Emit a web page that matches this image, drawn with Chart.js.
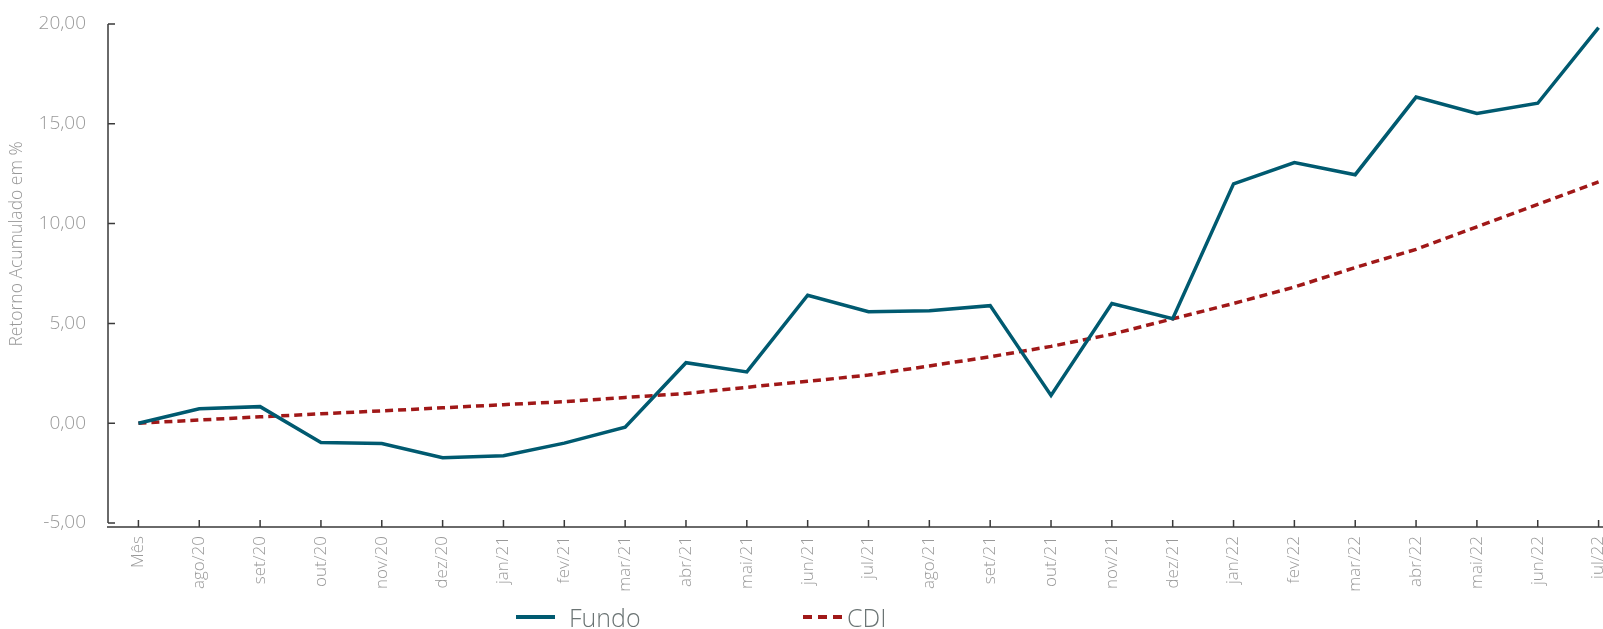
<!DOCTYPE html>
<html>
<head>
<meta charset="utf-8">
<script src="https://cdn.jsdelivr.net/npm/chart.js@4/dist/chart.umd.min.js"></script>
<style>
  html, body { margin: 0; padding: 0; background: #fff; overflow: hidden; }
  #wrap { position: relative; width: 1629px; height: 629px; }
  #legend { position: absolute; left: 0; top: 0; width: 1603px; height: 629px; pointer-events: none;
            font-family: "Open Sans", sans-serif; font-weight: 300; font-size: 25px; color: #6b7474; }
  .item { position: absolute; top: 601px; line-height: 32px; white-space: nowrap; }
  .swatch { position: absolute; top: 615px; height: 4px; width: 39px; }
</style>
</head>
<body>
<div id="wrap">
  <canvas id="retorno_chart" width="1629" height="629"></canvas>
  <div id="legend">
    <div class="swatch" style="left:516px; background:#005a70;"></div>
    <div class="item" style="left:569px;">Fundo</div>
    <div class="swatch" style="left:803px; background:repeating-linear-gradient(90deg,#a01818 0 9px,transparent 9px 15px);"></div>
    <div class="item" style="left:847px;">CDI</div>
  </div>
</div>
<script>
// months on the x axis
const labels = ['Mês', 'ago/20', 'set/20', 'out/20', 'nov/20', 'dez/20',
  'jan/21', 'fev/21', 'mar/21', 'abr/21', 'mai/21', 'jun/21', 'jul/21', 'ago/21', 'set/21', 'out/21', 'nov/21', 'dez/21',
  'jan/22', 'fev/22', 'mar/22', 'abr/22', 'mai/22', 'jun/22', 'jul/22'];

// accumulated return, %
const fundo = [0, 0.72, 0.83, -0.97, -1.02, -1.73, -1.63, -1.0, -0.2, 3.03, 2.57, 6.41, 5.59, 5.64, 5.89,
  1.39, 6.0, 5.23, 11.99, 13.06, 12.45, 16.34, 15.52, 16.03, 19.82];
const cdi = [0, 0.16, 0.32, 0.47, 0.62, 0.77, 0.93, 1.08, 1.29, 1.49, 1.8, 2.1, 2.41, 2.87, 3.33,
  3.85, 4.46, 5.23, 6.0, 6.82, 7.8, 8.71, 9.84, 10.96, 12.09];

const yTicks = [-5, 0, 5, 10, 15, 20];
const yTitle = 'Retorno Acumulado em %';

const AXIS_COLOR = '#3a3a3a';
const TICK_COLOR = '#999999';

// axis lines with inward tick marks, plus the y title
const axesPlugin = {
  id: 'axes',
  beforeDatasetsDraw(chart) {
    const { ctx, chartArea, scales } = chart;
    const x = scales.x, y = scales.y;
    const left = chartArea.left, bottom = chartArea.bottom;
    ctx.save();
    ctx.strokeStyle = AXIS_COLOR;
    ctx.lineWidth = 1.5;
    ctx.beginPath();
    ctx.moveTo(left, y.getPixelForValue(yTicks[yTicks.length - 1]));
    ctx.lineTo(left, y.getPixelForValue(yTicks[0]));
    yTicks.forEach((v) => {
      const py = y.getPixelForValue(v);
      ctx.moveTo(left, py);
      ctx.lineTo(left + 7, py);
    });
    ctx.moveTo(left - 1, bottom);
    ctx.lineTo(chartArea.right, bottom);
    x.ticks.forEach((t, i) => {
      const px = x.getPixelForTick(i);
      ctx.moveTo(px, bottom);
      ctx.lineTo(px, bottom - 7);
    });
    ctx.stroke();

    ctx.translate(17, 244);
    ctx.rotate(-Math.PI / 2);
    ctx.fillStyle = TICK_COLOR;
    ctx.font = '300 17.5px "Open Sans"';
    ctx.textAlign = 'center';
    ctx.textBaseline = 'middle';
    ctx.fillText(yTitle, 0, 0);
    ctx.restore();
  }
};

const ctx = document.getElementById('retorno_chart').getContext('2d');
new Chart(ctx, {
  type: 'line',
  data: {
    labels: labels,
    datasets: [
      {
        label: 'Fundo',
        data: fundo,
        borderColor: '#005a70',
        borderWidth: 3.5,
        pointRadius: 0,
        tension: 0,
        fill: false
      },
      {
        label: 'CDI',
        data: cdi,
        borderColor: '#a01818',
        borderWidth: 3.5,
        borderDash: [8, 5],
        pointRadius: 0,
        tension: 0,
        fill: false
      }
    ]
  },
  options: {
    responsive: false,
    animation: false,
    events: [],
    layout: { padding: { top: 24, left: 0, right: 0, bottom: 0 } },
    plugins: {
      legend: { display: false },
      tooltip: { enabled: false }
    },
    scales: {
      x: {
        offset: true,
        grid: { display: false, drawTicks: false },
        border: { display: false },
        ticks: {
          autoSkip: false,
          minRotation: 90,
          maxRotation: 90,
          padding: 9,
          color: TICK_COLOR,
          font: { family: 'Open Sans', size: 17, weight: '300' }
        },
        afterFit: (scale) => { scale.height = 102; }
      },
      y: {
        min: -5.2,
        max: 20,
        grid: { display: false, drawTicks: false },
        border: { display: false },
        afterBuildTicks: (scale) => { scale.ticks = yTicks.map((v) => ({ value: v })); },
        ticks: {
          padding: 22,
          color: TICK_COLOR,
          font: { family: 'Open Sans', size: 19, weight: '300' },
          callback: (v) => Number(v).toFixed(2).replace('.', ',')
        },
        afterFit: (scale) => {
          scale.width = 108;
          scale.paddingTop = 12;
          scale.paddingBottom = 12;
        }
      }
    }
  },
  plugins: [axesPlugin]
});
</script>
</body>
</html>
